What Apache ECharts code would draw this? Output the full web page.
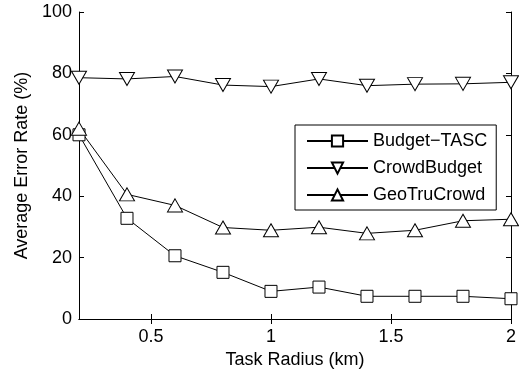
<!DOCTYPE html>
<html>
<head>
<meta charset="utf-8">
<script src="https://cdn.jsdelivr.net/npm/echarts@6/dist/echarts.min.js"></script>
<style>html,body{margin:0;padding:0;background:#fff}#c{width:519px;height:375px}</style>
</head>
<body>
<div id="c"></div>
<script>
const radius = [0.2, 0.4, 0.6, 0.8, 1.0, 1.2, 1.4, 1.6, 1.8, 2.0];
const budgetTASC = [60.0, 32.8, 20.6, 15.2, 9.0, 10.4, 7.4, 7.4, 7.4, 6.6];
const crowdBudget = [78.6, 78.2, 79.0, 76.2, 75.7, 78.2, 76.0, 76.5, 76.6, 77.1];
const geoTruCrowd = [62.0, 40.6, 37.0, 29.8, 28.9, 29.9, 27.9, 28.9, 32.0, 32.5];
const xTicks = [0.5, 1, 1.5, 2];
const seriesNames = ['Budget\u2212TASC', 'CrowdBudget', 'GeoTruCrowd'];

const FONT = 'Liberation Sans, Arial, sans-serif';
const FS = 18;
const pairs = arr => radius.map((x, i) => [x, arr[i]]);

function mk(name, data, symbol, size, rot) {
  return {
    name, type: 'line', data: pairs(data),
    symbol, symbolSize: size, symbolRotate: rot,
    lineStyle: { color: '#000', width: 1 },
    itemStyle: { color: '#fff', borderColor: '#000', borderWidth: 1 },
    emphasis: { disabled: true },
    animation: false, z: 3
  };
}

const chart = echarts.init(document.getElementById('c'), null, { renderer: 'canvas' });
chart.setOption({
  animation: false,
  backgroundColor: '#fff',
  textStyle: { fontFamily: FONT },
  grid: { left: 79, right: 7, top: 12, bottom: 56, containLabel: false },
  xAxis: [{
    type: 'value', min: 0.2, max: 2, position: 'bottom',
    name: 'Task Radius (km)', nameLocation: 'middle', nameGap: 31,
    nameTextStyle: { fontSize: FS, color: '#000', fontFamily: FONT },
    axisLine: { lineStyle: { color: '#000', width: 1 } },
    axisTick: { inside: true, length: 5, customValues: xTicks, lineStyle: { color: '#000' } },
    axisLabel: { customValues: xTicks, fontSize: FS, color: '#000', margin: 9, fontFamily: FONT },
    splitLine: { show: false }
  }, {
    type: 'value', min: 0.2, max: 2, position: 'top',
    axisLine: { lineStyle: { color: '#000', width: 1 } },
    axisTick: { inside: true, length: 5, customValues: xTicks, lineStyle: { color: '#000' } },
    axisLabel: { show: false }, splitLine: { show: false }
  }],
  yAxis: [{
    type: 'value', min: 0, max: 100, interval: 20, position: 'left',
    name: 'Average Error Rate (%)', nameLocation: 'middle', nameGap: 47,
    nameTextStyle: { fontSize: FS, color: '#000', fontFamily: FONT },
    axisLine: { show: true, lineStyle: { color: '#000', width: 1 } },
    axisTick: { show: true, inside: true, length: 5, lineStyle: { color: '#000' } },
    axisLabel: { fontSize: FS, color: '#000', margin: 7, fontFamily: FONT },
    splitLine: { show: false }
  }, {
    type: 'value', min: 0, max: 100, interval: 20, position: 'right',
    axisLine: { show: true, lineStyle: { color: '#000', width: 1 } },
    axisTick: { show: true, inside: true, length: 5, lineStyle: { color: '#000' } },
    axisLabel: { show: false }, splitLine: { show: false }
  }],
  legend: {
    orient: 'vertical', left: 295, top: 125,
    data: seriesNames,
    backgroundColor: '#fff', borderColor: '#000', borderWidth: 1, borderRadius: 0,
    padding: [7, 9, 6, 11], itemGap: 9, itemWidth: 61, itemHeight: 14,
    textStyle: { fontSize: FS, color: '#000', fontFamily: FONT },
    selectedMode: false, z: 10
  },
  series: [
    mk(seriesNames[0], budgetTASC, 'rect', 12, 0),
    mk(seriesNames[1], crowdBudget, 'triangle', [15, 13], 180),
    mk(seriesNames[2], geoTruCrowd, 'triangle', [15, 13], 0)
  ]
});
</script>
</body>
</html>
